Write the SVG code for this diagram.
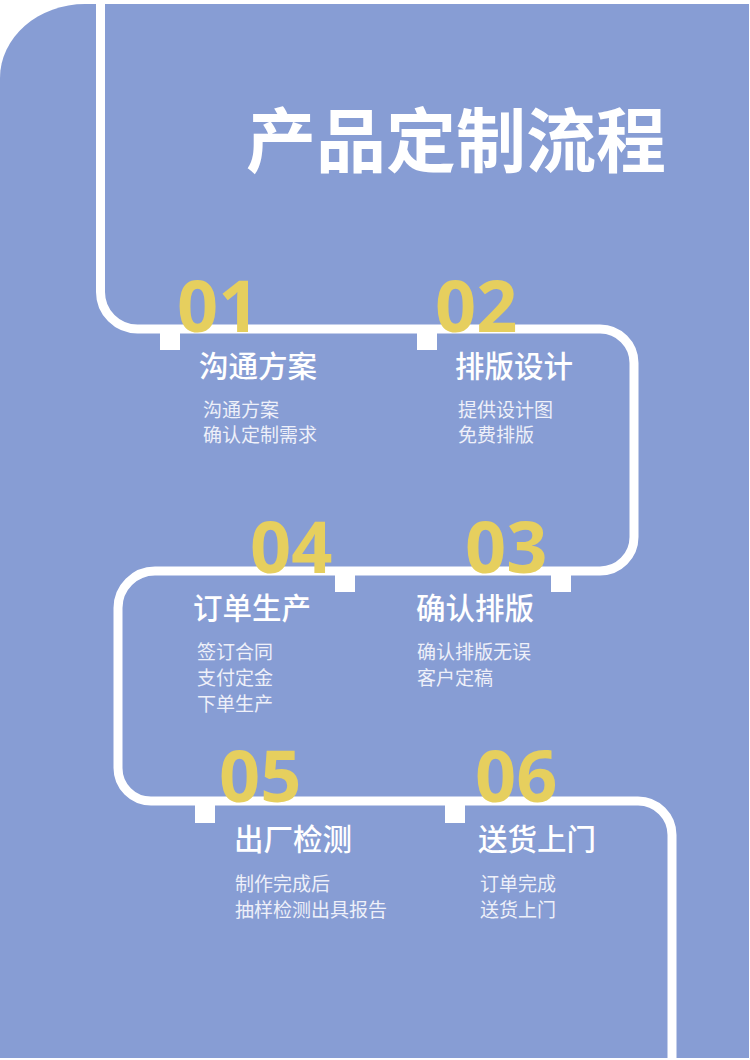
<svg xmlns="http://www.w3.org/2000/svg" width="750" height="1060" viewBox="0 0 750 1060">
<style>
.num{font-family:"Open Sans","Noto Sans",sans-serif;font-weight:700;font-size:72px;fill:#e6cf5e}
.h{font-family:"Noto Sans CJK SC","Noto Sans",sans-serif;font-weight:500;font-size:29.5px;fill:#ffffff}
.s{font-family:"Noto Sans CJK SC","Noto Sans",sans-serif;font-weight:400;font-size:19px;fill:#eef0f9}
.title{font-family:"Noto Sans CJK SC","Noto Sans",sans-serif;font-weight:700;font-size:70px;fill:#ffffff}
.tab{fill:#ffffff}
</style>
<rect width="750" height="1060" fill="#ffffff"/>
<path id="bg" d="M85,4 H749 V1058 H0 V78 A85 74 0 0 1 85,4 Z" fill="#879dd4"/>
<g id="connectors">
<path d="M100.5,4 V292 A37 37 0 0 0 137.5,329 H600 A34 34 0 0 1 634,363 V537 A34 34 0 0 1 600,571 H155 A37 37 0 0 0 118,608 V768 A33 33 0 0 0 151,801 H638 A34 34 0 0 1 672,835 V1058" fill="none" stroke="#ffffff" stroke-width="9"/>
</g>
<text id="title" class="title" x="246" y="167">产品定制流程</text>
<g id="step01">
<rect class="tab" x="160" y="329" width="20" height="21"/>
<text class="num" x="177" y="332">01</text>
<text class="h" x="199" y="377">沟通方案</text>
<text class="s" x="203" y="417">沟通方案</text>
<text class="s" x="203" y="442">确认定制需求</text>
</g>
<g id="step02">
<rect class="tab" x="417" y="329" width="20" height="21"/>
<text class="num" x="435" y="332">02</text>
<text class="h" x="455" y="377">排版设计</text>
<text class="s" x="458" y="417">提供设计图</text>
<text class="s" x="458" y="442">免费排版</text>
</g>
<g id="step03">
<rect class="tab" x="551" y="571" width="20" height="21"/>
<text class="num" x="465" y="573">03</text>
<text class="h" x="416" y="619">确认排版</text>
<text class="s" x="417" y="659">确认排版无误</text>
<text class="s" x="417" y="685">客户定稿</text>
</g>
<g id="step04">
<rect class="tab" x="335" y="571" width="20" height="21"/>
<text class="num" x="250" y="573">04</text>
<text class="h" x="193" y="619">订单生产</text>
<text class="s" x="197" y="659">签订合同</text>
<text class="s" x="197" y="685">支付定金</text>
<text class="s" x="197" y="711">下单生产</text>
</g>
<g id="step05">
<rect class="tab" x="195" y="801" width="20" height="22"/>
<text class="num" x="219" y="802">05</text>
<text class="h" x="234" y="850">出厂检测</text>
<text class="s" x="235" y="891">制作完成后</text>
<text class="s" x="235" y="917">抽样检测出具报告</text>
</g>
<g id="step06">
<rect class="tab" x="445" y="801" width="20" height="22"/>
<text class="num" x="475" y="802">06</text>
<text class="h" x="478" y="850">送货上门</text>
<text class="s" x="480" y="891">订单完成</text>
<text class="s" x="480" y="917">送货上门</text>
</g>
</svg>
